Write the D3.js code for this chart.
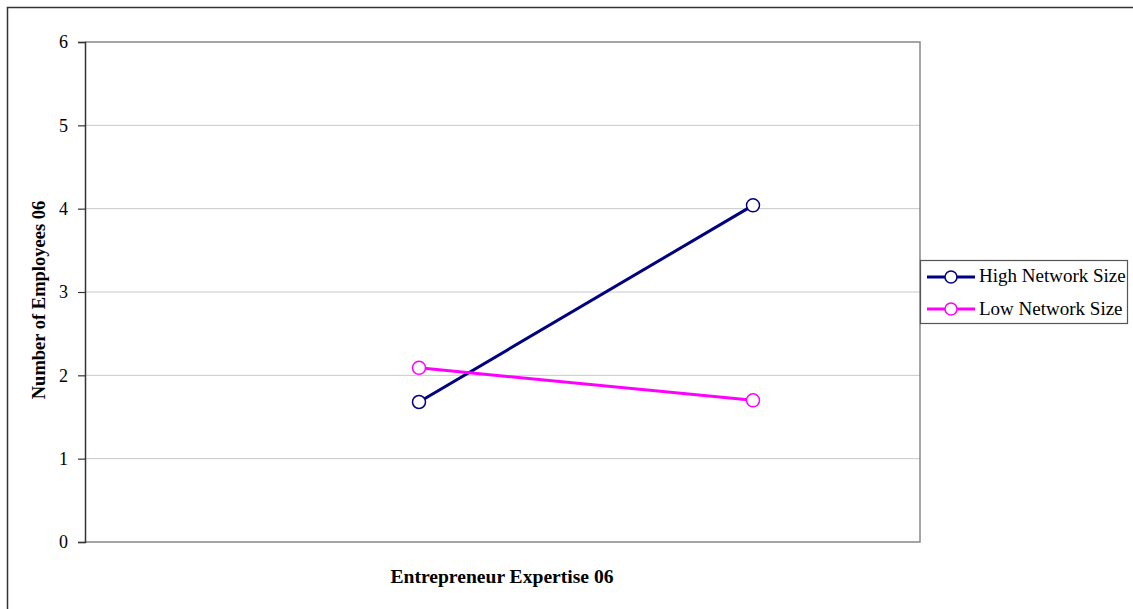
<!DOCTYPE html>
<html><head><meta charset="utf-8">
<script src="https://cdn.jsdelivr.net/npm/d3@7"></script>
<style>body{margin:0;background:#fff}svg{display:block}text{font-family:"Liberation Serif","Times New Roman",serif;fill:#000}</style>
</head><body>
<script>
const categories = ["Low Expertise", "High Expertise"];
const categoryPos = [1, 2];
const highNetwork = [1.68, 4.04];
const lowNetwork = [2.09, 1.70];
const seriesNames = ["High Network Size", "Low Network Size"];
const seriesColors = ["#000080", "#ff00ff"];
const yTicks = [0, 1, 2, 3, 4, 5, 6];

const W = 1133, H = 609;
const svg = d3.select("body").append("svg").attr("width", W).attr("height", H);
// outer frame
svg.append("path").attr("d", `M7.5,${H+5}V7.5H${W+5}`).attr("fill","none").attr("stroke","#333").attr("stroke-width",1.5);

const L = 85, R = 920, T = 42, B = 542;
const x = d3.scaleLinear().domain([0, 2.5]).range([L, R]);
const y = d3.scaleLinear().domain([0, 6]).range([B, T]);

// gridlines
svg.append("g").selectAll("line").data(yTicks.filter(d => d > 0 && d < 6)).join("line")
  .attr("x1", L).attr("x2", R).attr("y1", d => y(d)).attr("y2", d => y(d))
  .attr("stroke", "#c8c8c8").attr("stroke-width", 1);
// plot border
svg.append("path").attr("d", `M${L},${T}H${R}V${B}H${L}`).attr("fill","none").attr("stroke","#888").attr("stroke-width",1.5);

// y axis
const yAxis = d3.axisLeft(y).tickValues(yTicks).tickSize(7).tickPadding(10).tickFormat(d3.format("d"));
const ga = svg.append("g").attr("transform", `translate(${L},0)`).call(yAxis);
ga.attr("font-size", null).attr("font-family", null);
ga.select(".domain").attr("stroke", "#333").attr("stroke-width", 1.5);
ga.selectAll(".tick line").attr("stroke", "#333").attr("stroke-width", 1.2);
ga.selectAll(".tick text").style("font-family", '"Liberation Serif", serif').style("font-size", "18px").attr("fill", "#000");

// axis titles
svg.append("text").attr("transform", `translate(45,300) rotate(-90)`)
  .attr("text-anchor", "middle").style("font-size", "18.5px").style("font-weight", "bold")
  .text("Number of Employees 06");
svg.append("text").attr("x", 502).attr("y", 583)
  .attr("text-anchor", "middle").style("font-size", "19.6px").style("font-weight", "bold")
  .text("Entrepreneur Expertise 06");

// series
const series = [highNetwork, lowNetwork];
const line = d3.line().x((d, i) => x(categoryPos[i])).y(d => y(d));
series.forEach((vals, si) => {
  svg.append("path").datum(vals).attr("d", line).attr("fill", "none")
    .attr("stroke", seriesColors[si]).attr("stroke-width", 3);
});
series.forEach((vals, si) => {
  svg.append("g").selectAll("circle").data(vals).join("circle")
    .attr("cx", (d, i) => x(categoryPos[i])).attr("cy", d => y(d)).attr("r", 6.5)
    .attr("fill", "#fff").attr("stroke", seriesColors[si]).attr("stroke-width", 1.5);
});

// legend
const lg = svg.append("g");
lg.append("rect").attr("x", 920.5).attr("y", 260.5).attr("width", 207).attr("height", 63)
  .attr("fill", "#fff").attr("stroke", "#555").attr("stroke-width", 1.2);
seriesNames.forEach((name, i) => {
  const cy = 277 + i * 32;
  lg.append("line").attr("x1", 927).attr("x2", 975).attr("y1", cy).attr("y2", cy)
    .attr("stroke", seriesColors[i]).attr("stroke-width", 3);
  lg.append("circle").attr("cx", 951).attr("cy", cy).attr("r", 6)
    .attr("fill", "#fff").attr("stroke", seriesColors[i]).attr("stroke-width", 1.5);
  lg.append("text").attr("x", 979).attr("y", 282 + i * 33).style("font-size", "19px").text(name);
});
</script>
</body></html>
